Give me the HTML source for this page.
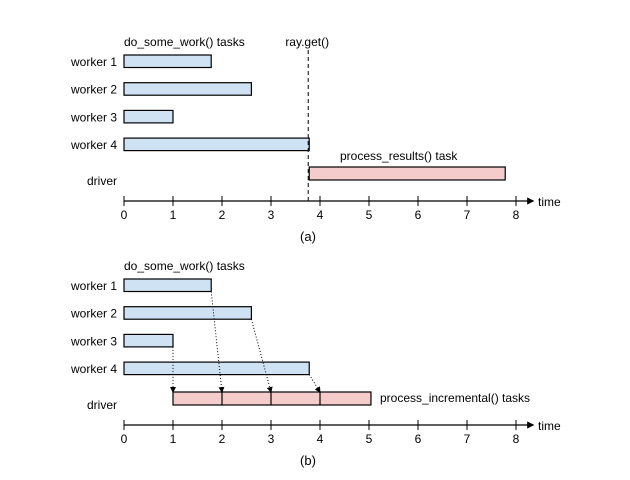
<!DOCTYPE html>
<html><head><meta charset="utf-8"><style>body{margin:0;background:#fff}svg{display:block;font-family:"Liberation Sans",sans-serif}</style></head>
<body>
<svg id="c" width="630" height="480"></svg>
<script>
const workers = ["worker 1","worker 2","worker 3","worker 4"];
const workEnds = [1.78, 2.6, 1.0, 3.78];
const ticks = [0,1,2,3,4,5,6,7,8];
const getTime = 3.78;
const processEndA = 7.78;
const incStarts = [1, 2, 3, 4];
const incEnd = 5.04;
const NS="http://www.w3.org/2000/svg", svg=document.getElementById('c');
const X=v=>124+v*49;
function el(t,a,txt){const e=document.createElementNS(NS,t);for(const k in a)e.setAttribute(k,a[k]);if(txt!=null)e.textContent=txt;svg.appendChild(e);return e;}
const defs=el('defs',{});
defs.innerHTML='<marker id="ah" markerWidth="6" markerHeight="6" refX="5" refY="3" orient="auto"><path d="M0,0L6,3L0,6z" fill="#000"/></marker>';
function panel(off, label){
  const ax=201+off;
  const a=el('line',{x1:X(0),y1:ax,x2:X(8.35),y2:ax,stroke:'#000','stroke-width':1.2,'marker-end':'url(#ah)'});
  
  const tl=el('text',{x:538,y:ax+5,'font-size':12},'time');
  
  ticks.forEach(t=>{
    const l=el('line',{x1:X(t),y1:ax-5,x2:X(t),y2:ax+5,stroke:'#000'});
    
    const tx=el('text',{x:X(t),y:ax+18,'font-size':12,'text-anchor':'middle'},t);
    
  });
  workers.forEach((w,i)=>{
    const y=55+off+i*27.7;
    const t=el('text',{x:117,y:y+11,'font-size':12,'text-anchor':'end'},w);
    
    const r=el('rect',{x:X(0),y:y,width:X(workEnds[i])-X(0),height:12.5,fill:'#cfe2f3',stroke:'#000','stroke-width':1.2});
    
  });
  const d=el('text',{x:117,y:185+off,'font-size':12,'text-anchor':'end'},'driver');
  
  const h=el('text',{x:124,y:46+off,'font-size':12},'do_some_work() tasks');
  
  const cap=el('text',{x:308,y:ax+40,'font-size':13,'text-anchor':'middle'},label);
  
}
panel(0,'(a)');panel(224,'(b)');
// panel a
let e=el('line',{x1:X(getTime)-1,y1:50,x2:X(getTime)-1,y2:201,stroke:'#000','stroke-dasharray':'4,3'});

e=el('text',{x:X(getTime)-2,y:46,'font-size':12,'text-anchor':'middle'},'ray.get()');

e=el('rect',{x:X(getTime),y:167,width:X(processEndA)-X(getTime),height:13,fill:'#f4cccc',stroke:'#000','stroke-width':1.2});

e=el('text',{x:340,y:160,'font-size':12},'process_results() task');

// panel b
e=el('rect',{x:X(incStarts[0]),y:392,width:X(incEnd)-X(incStarts[0]),height:13,fill:'#f4cccc',stroke:'#000','stroke-width':1.2});

const order=[2,0,1,3];
incStarts.forEach((s,k)=>{
  if(k>0){const l=el('line',{x1:X(s),y1:392,x2:X(s),y2:405,stroke:'#000','stroke-width':1.2});
  }
  const w=order[k], y=279+w*27.7+12.5;
  const ar=el('line',{x1:X(workEnds[w]),y1:y,x2:X(s),y2:392,stroke:'#000','stroke-dasharray':'1,2','marker-end':'url(#ah)'});
  
});
e=el('text',{x:380,y:402,'font-size':12},'process_incremental() tasks');

</script>
</body></html>
